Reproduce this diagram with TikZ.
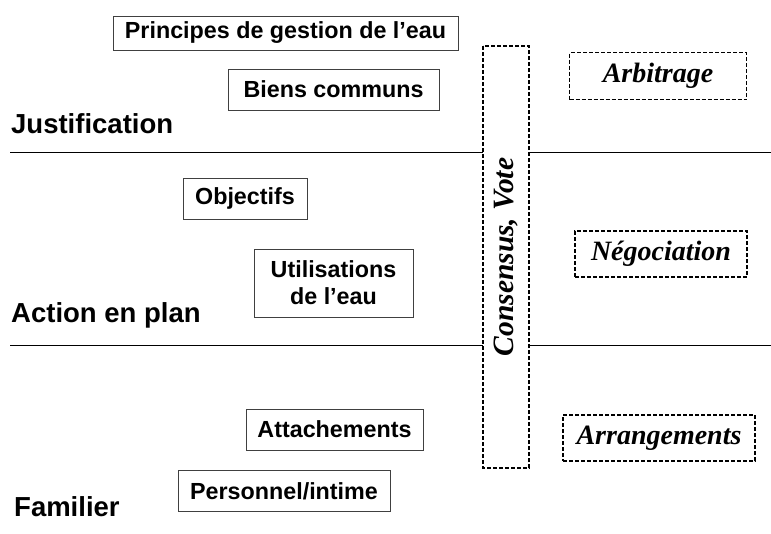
\documentclass[tikz,border=0pt]{standalone}
\usepackage{fontspec}
\setmainfont{Liberation Serif}
\setsansfont{Liberation Sans}
\usetikzlibrary{positioning}

\tikzset{
    levelbox/.style={draw=black!75, line width=0.8pt, fill=white, font=\sffamily\bfseries\fontsize{23.3}{27}\selectfont, inner sep=0pt, align=center},
    modebox/.style={draw, dash pattern=on 4pt off 2pt, line width=1.1pt, fill=white, font=\rmfamily\bfseries\itshape\fontsize{28}{32}\selectfont, inner sep=0pt},
    levellabel/.style={anchor=west, inner sep=0pt, font=\sffamily\bfseries\fontsize{27.5}{32}\selectfont}
}

\begin{document}
\begin{tikzpicture}[x=1pt, y=-1pt]
                        \useasboundingbox (0, 0) rectangle (771, 533);

                        % niveaux
                        \coordinate (j-l) at (10, 152);
                        \coordinate (j-r) at (771, 152);
                        \coordinate (a-l) at (10, 345);
                        \coordinate (a-r) at (771, 345);
                        \draw[line width=0.8pt] (j-l) -- (j-r);
                        \draw[line width=0.8pt] (a-l) -- (a-r);

                        \node[levellabel] (just) at (11, 124) {Justification};
                        \node[levellabel] (action) at (11, 315) {Action en plan};
                        \node[levellabel] (fam) at (14, 507) {Familier};

                        % boites
                        \node[levelbox, minimum width=345, minimum height=34] (principes) at (285.5, 33) {Principes de gestion de l'eau};
                        \node[levelbox, minimum width=211, minimum height=41] (biens) at (333.5, 89.5) {Biens communs};
                        \node[levelbox, minimum width=124, minimum height=41] (obj) at (245, 198.5) {Objectifs};
                        \node[levelbox, minimum width=159, minimum height=68] (util) at (333.5, 283) {Utilisations\\de l'eau};
                        \node[levelbox, minimum width=177, minimum height=41] (attach) at (334.5, 429.5) {Attachements};
                        \node[levelbox, minimum width=212, minimum height=41] (perso) at (284, 491) {Personnel/intime};

                        % modes
                        \node[modebox, rotate=90, minimum width=422, minimum height=46, font=\rmfamily\bfseries\itshape\fontsize{29.5}{34}\selectfont] (consensus) at (506, 257) {Consensus, Vote};
                        \node[modebox, minimum width=177, minimum height=47] (arbitrage) at (658, 76) {Arbitrage};
                        \node[modebox, minimum width=172, minimum height=46] (nego) at (661, 254) {Négociation};
                        \node[modebox, minimum width=192, minimum height=46] (arrang) at (659, 438) {Arrangements};
                    \end{tikzpicture}
\end{document}
